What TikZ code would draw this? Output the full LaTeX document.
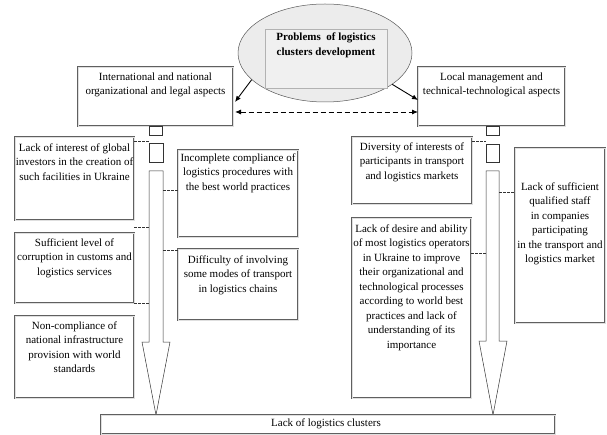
\documentclass[tikz,border=0pt]{standalone}
\usepackage{fontspec}
\setmainfont{Liberation Serif}
\usetikzlibrary{arrows.meta,shapes.geometric,calc}
\begin{document}
\begin{tikzpicture}[x=1pt,y=-1pt,
  box/.style={draw=gray!75!black, double=gray!25, double distance=0.7pt, line width=0.4pt,
    anchor=north west, inner sep=0pt, fill=white},
  txt/.style={align=center, anchor=north, inner sep=0pt, font=\fontsize{11}{14.5}\selectfont},
  link/.style={draw=black!80, line width=0.6pt, dash pattern=on 2.5pt off 1.5pt},
  bigarrow/.style={draw=black!80, line width=0.5pt, fill=white},
  sq/.style={draw=black!80, line width=0.5pt, fill=white, anchor=north west, inner sep=0pt},
  main/.style={-{Latex[length=6pt,width=5pt]}, line width=0.9pt}]
\useasboundingbox (0,0) rectangle (607,435);

% central ellipse
\node[ellipse, draw=gray!70!black, line width=0.5pt, fill=gray!15,
      minimum width=174, minimum height=98, inner sep=0pt] (ell) at (325,53) {};
\node[draw=gray!60, line width=0.4pt, fill=gray!12, anchor=north west,
      minimum width=122, minimum height=59, inner sep=0pt] (inner) at (265,29) {};
\node[txt, font=\fontsize{11}{15.5}\selectfont\bfseries] (ttl) at (326,32.5)
  {Problems\ \ of logistics\\clusters development};

% header boxes
\node[box, minimum width=155, minimum height=59] (lh) at (78,67) {};
\node[txt] (tlh) at (155.5,72.5) {International and national\\organizational and legal aspects};
\node[box, minimum width=147, minimum height=59] (rh) at (418,67) {};
\node[txt] (trh) at (491.5,72.5) {Local management and\\technical-technological aspects};

% arrows from ellipse
\coordinate (lhin) at (235,102);
\coordinate (rhin) at (418,100);
\draw[main] (ell.200) -- (lhin);
\draw[main] (ell.-25) -- (rhin);
\coordinate (dl) at (235,112);
\coordinate (dr) at (418,112);
\draw[{Latex[length=6pt,width=5pt]}-{Latex[length=6pt,width=5pt]}, line width=0.9pt,
      dash pattern=on 5pt off 3pt] (dl) -- (dr);

% small squares
\node[sq, minimum width=13, minimum height=9] (ls1) at (149,126) {};
\node[sq, minimum width=14, minimum height=19] (ls2) at (149,143) {};
\node[sq, minimum width=13, minimum height=9] (rs1) at (486,126) {};
\node[sq, minimum width=13, minimum height=18] (rs2) at (486,144) {};

% big hollow arrows
\draw[bigarrow] (149,171) -- (163,171) -- (163,342) -- (170,342) -- (156,415)
  -- (142,342) -- (149,342) -- cycle;
\draw[bigarrow] (486,171) -- (499,171) -- (499,341) -- (507,341) -- (493,415)
  -- (479,341) -- (486,341) -- cycle;
\coordinate (LL) at (149,0);
\coordinate (LR) at (163,0);
\coordinate (RL) at (486,0);
\coordinate (RR) at (499,0);

% left column boxes
\node[box, minimum width=119, minimum height=83] (b1) at (15,137) {};
\node[txt] (t1) at (74.5,143.5) {Lack of interest of global\\investors in the creation of\\such facilities in Ukraine};
\node[box, minimum width=120, minimum height=87] (b2) at (178,150) {};
\node[txt] (t2) at (238,153.5) {Incomplete compliance of\\logistics procedures with\\the best world practices};
\node[box, minimum width=119, minimum height=70] (b3) at (15,233) {};
\node[txt] (t3) at (74.5,238.5) {Sufficient level of\\corruption in customs and\\logistics services};
\node[box, minimum width=120, minimum height=71] (b4) at (178,249) {};
\node[txt] (t4) at (238,255.5) {Difficulty of involving\\some modes of transport\\in logistics chains};
\node[box, minimum width=119, minimum height=82] (b5) at (15,316) {};
\node[txt] (t5) at (74.5,321.5) {Non-compliance of\\national infrastructure\\provision with world\\standards};

% right column boxes
\node[box, minimum width=120, minimum height=67] (b6) at (352,137) {};
\node[txt] (t6) at (412,142.5) {Diversity of interests of\\participants in transport\\and logistics markets};
\node[box, minimum width=119, minimum height=180] (b7) at (352,218) {};
\node[txt] (t7) at (411.5,224.5) {Lack of desire and ability\\of most logistics operators\\in Ukraine to improve\\their organizational and\\technological processes\\according to world best\\practices and lack of\\understanding of its\\importance};
\node[box, minimum width=90, minimum height=175] (b8) at (515,148) {};
\node[txt] (t8) at (560,182.5) {Lack of sufficient\\qualified staff\\in companies\\participating\\in the transport and\\logistics market};

% bottom box
\node[box, minimum width=454, minimum height=19] (bot) at (101,415) {};
\node[txt, anchor=center] (tbot) at (326,424) {Lack of logistics clusters};

% dashed links
\draw[link] (b1.east |- 0,141) -- (ls2.west |- 0,141);
\draw[link] (LR |- 0,190) -- (b2.west |- 0,190);
\draw[link] (b3.east |- 0,227) -- (LL |- 0,227);
\draw[link] (LR |- 0,250) -- (b4.west |- 0,250);
\draw[link] (b3.east |- 0,303) -- (LL |- 0,303);
\draw[link] (b6.east |- 0,141) -- (rs2.west |- 0,141);
\draw[link] (b7.east |- 0,253) -- (RL |- 0,253);
\draw[link] (RR |- 0,192) -- (b8.west |- 0,192);
\end{tikzpicture}
\end{document}
